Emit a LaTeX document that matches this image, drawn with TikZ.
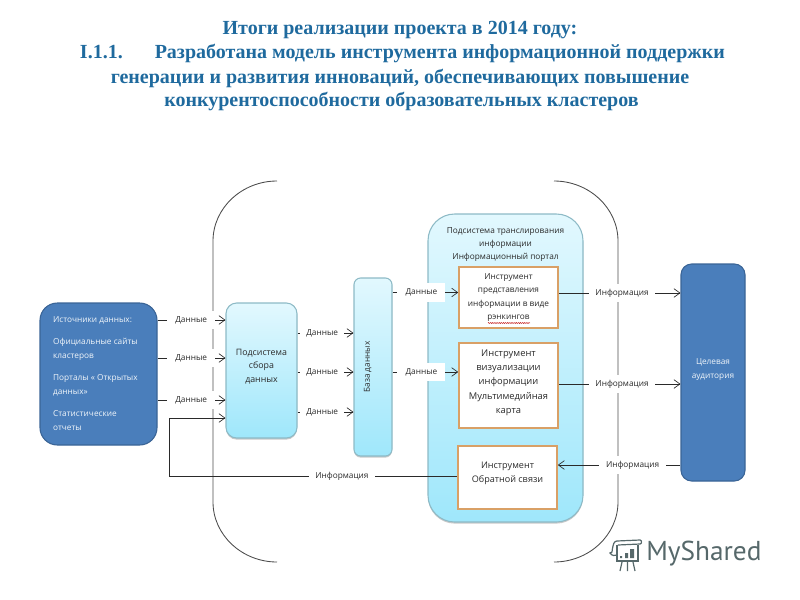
\documentclass[tikz,border=0pt]{standalone}
\usepackage{fontspec}
\setmainfont{Liberation Serif}
\newfontfamily\diagfont{Open Sans}
\newfontfamily\logofont{PT Sans}
\usetikzlibrary{arrows.meta,shadows,decorations.pathmorphing}
\definecolor{titleblue}{HTML}{1F6A9E}
\definecolor{darkbox}{HTML}{4A7EBB}
\definecolor{darkedge}{HTML}{3A6496}
\definecolor{lighttop}{HTML}{E2F8FE}
\definecolor{lightbot}{HTML}{9FE7FB}
\definecolor{lightedge}{HTML}{8DBAC6}
\definecolor{tooledge}{HTML}{D9A066}
\definecolor{inktext}{HTML}{2A2A2A}
\definecolor{logoink}{HTML}{56686A}
\tikzset{
  x=0.75pt,y=-0.75pt,
  every node/.style={font=\diagfont\fontsize{6.2pt}{10.5pt}\selectfont,text=inktext,inner sep=0pt},
  titleline/.style={font=\fontsize{15pt}{18pt}\selectfont\bfseries,text=titleblue},
  darkbox/.style={draw=darkedge,line width=0.8pt,fill=darkbox,text=white!92!darkbox,rounded corners=#1,align=center},
  lightbox/.style={draw=lightedge,line width=0.8pt,top color=lighttop,bottom color=lightbot,rounded corners=#1,align=center,
     drop shadow={shadow xshift=0pt,shadow yshift=-1.2pt,opacity=0.3,fill=black!70}},
  toolbox/.style={draw=tooledge,line width=1.2pt,fill=white,align=center},
  tag/.style={fill=white,minimum height=14pt,minimum width=#1,text=inktext},
  tag/.default=36pt,
  link/.style={draw=inktext,line width=0.6pt,-{Straight Barb[length=4.5pt,width=6.5pt,line width=0.5pt]}},
  brace/.style={draw=black!70,line width=0.65pt},
}
\begin{document}
\begin{tikzpicture}
\useasboundingbox (0,0) rectangle (800,600);
% title
\node[titleline] (t1) at (400,30) {Итоги реализации проекта в 2014 году:};
\node[titleline] (t2) at (402.5,53) {I.1.1.\hspace{24pt}Разработана модель инструмента информационной поддержки};
\node[titleline] (t3) at (400,78) {генерации и развития инноваций, обеспечивающих повышение};
\node[titleline] (t4) at (401.5,101) {конкурентоспособности образовательных кластеров};
% big brackets
\path[brace] (277,181) .. controls (242,181) and (213,208) .. (213,241) -- (213,502) .. controls (213,535) and (242,562) .. (277,562);
\path[brace] (554,181) .. controls (589,181) and (618,208) .. (618,241) -- (618,502) .. controls (618,535) and (589,562) .. (554,562);
% boxes
\node[darkbox=13pt,minimum width=87.75pt,minimum height=106.5pt,align=left] (src) at (98.5,374) {%
  \begin{minipage}{68pt}\raggedright
  Источники данных:\\[6pt]
  Официальные сайты\\ кластеров\\[6pt]
  Порталы « Открытых\\ данных»\\[6pt]
  Статистические\\ отчеты
  \end{minipage}};
\node[lightbox=8pt,minimum width=53.25pt,minimum height=101.25pt,font=\diagfont\fontsize{6.6pt}{10.2pt}\selectfont] (sub) at (261.5,370.5) {Подсистема\\ сбора\\ данных\rule[-7pt]{0pt}{7pt}};
\node[lightbox=5pt,minimum width=28.5pt,minimum height=133.5pt] (db) at (373,367) {\rotatebox{90}{База данных\rule[-9pt]{0pt}{9pt}}};
\node[lightbox=20pt,minimum width=116.25pt,minimum height=231pt] (portal) at (505.5,368) {};
\node[font=\diagfont\fontsize{6.2pt}{9.75pt}\selectfont,align=center] (portaltitle) at (505.5,245) {Подсистема транслирования\\ информации\\ Информационный портал};
\node[toolbox,minimum width=74.25pt,minimum height=45.75pt,font=\diagfont\fontsize{6.2pt}{10pt}\selectfont] (i1) at (508.5,297.5) {Инструмент\\ представления\\ информации в виде\\ рэнкингов};
\node[toolbox,minimum width=74.25pt,minimum height=63.75pt,font=\diagfont\fontsize{7pt}{10.8pt}\selectfont] (i2) at (508.5,385.5) {Инструмент\\ визуализации\\ информации\\ Мультимедийная\\ карта\rule[-6pt]{0pt}{6pt}};
\node[toolbox,minimum width=74.25pt,minimum height=47.25pt,font=\diagfont\fontsize{6.8pt}{11pt}\selectfont] (i3) at (507.5,477.5) {Инструмент\\ Обратной связи\rule[-8pt]{0pt}{8pt}};
\node[darkbox=8pt,minimum width=48pt,minimum height=162.75pt] (aud) at (713,372.5) {Целевая\\ аудитория\rule[-6pt]{0pt}{6pt}};
% spell-check underline
\coordinate (sq1) at (488,323);
\coordinate (sq2) at (530,323);
\draw[red!75!black,line width=0.35pt,decorate,decoration={zigzag,amplitude=0.35pt,segment length=1.6pt}] (sq1) -- (sq2);
% row guides
\coordinate (r1) at (0,320);
\coordinate (r2) at (0,358);
\coordinate (r3) at (0,400);
\coordinate (r4) at (0,333);
\coordinate (r5) at (0,372);
\coordinate (r6) at (0,412);
\coordinate (r7) at (0,292.5);
\coordinate (r9) at (0,293);
\coordinate (r10) at (0,384);
\coordinate (r11) at (0,465);
\coordinate (r12) at (0,476);
\coordinate (r13) at (0,418);
\coordinate (fb) at (169,0);
% connectors
\path[link] (src.east |- r1) -- node[tag,pos=0.495] (l1) {Данные} (sub.west |- r1);
\path[link] (src.east |- r2) -- node[tag,pos=0.495] (l2) {Данные} (sub.west |- r2);
\path[link] (src.east |- r3) -- node[tag,pos=0.495] (l3) {Данные} (sub.west |- r3);
\path[link] (sub.east |- r4) -- node[tag=33pt,pos=0.44] (l4) {Данные} (db.west |- r4);
\path[link] (sub.east |- r5) -- node[tag=33pt,pos=0.44] (l5) {Данные} (db.west |- r5);
\path[link] (sub.east |- r6) -- node[tag=33pt,pos=0.44] (l6) {Данные} (db.west |- r6);
\path[link] (db.east |- r7) -- node[tag,pos=0.44] (l7) {Данные} (i1.west |- r7);
\path[link] (db.east |- r5) -- node[tag,pos=0.44] (l8) {Данные} (i2.west |- r5);
\path[link] (i1.east |- r9) -- node[tag=50pt,pos=0.52] (l9) {Информация} (aud.west |- r9);
\path[link] (i2.east |- r10) -- node[tag=50pt,pos=0.52] (l10) {Информация} (aud.west |- r10);
\path[link] (aud.west |- r11) -- node[tag=50pt,pos=0.39] (l11) {Информация} (i3.east |- r11);
\path[link] (i3.west |- r12) -- node[tag=50pt,pos=0.40] (l12) {Информация} (fb |- r12) -- (fb |- r13) -- (sub.west |- r13);
% logo
\begin{scope}[draw=logoink,line width=0.9pt]
  \path[draw] (617,541) .. controls (614,541) and (613,544) .. (612,552) -- (610,553) .. controls (612,556) and (615,556) .. (617,555);
  \path[draw] (617,541) -- (640,540) .. controls (642,540) and (642,544) .. (640,544) -- (618,545);
  \path[draw] (617,545) -- (617,561) -- (638,561) -- (638,545);
  \path[draw] (620,571) -- (622,562) (627.5,571) -- (627.5,562) (635,571) -- (633,562);
  \fill[logoink] (620,556) rectangle (622,558) (625,553) rectangle (628,558) (630,549) rectangle (634,558);
\end{scope}
\node[font=\logofont\fontsize{20.5pt}{22pt}\selectfont,text=logoink,anchor=west] (logo) at (646,554) {MyShared};
\end{tikzpicture}
\end{document}
